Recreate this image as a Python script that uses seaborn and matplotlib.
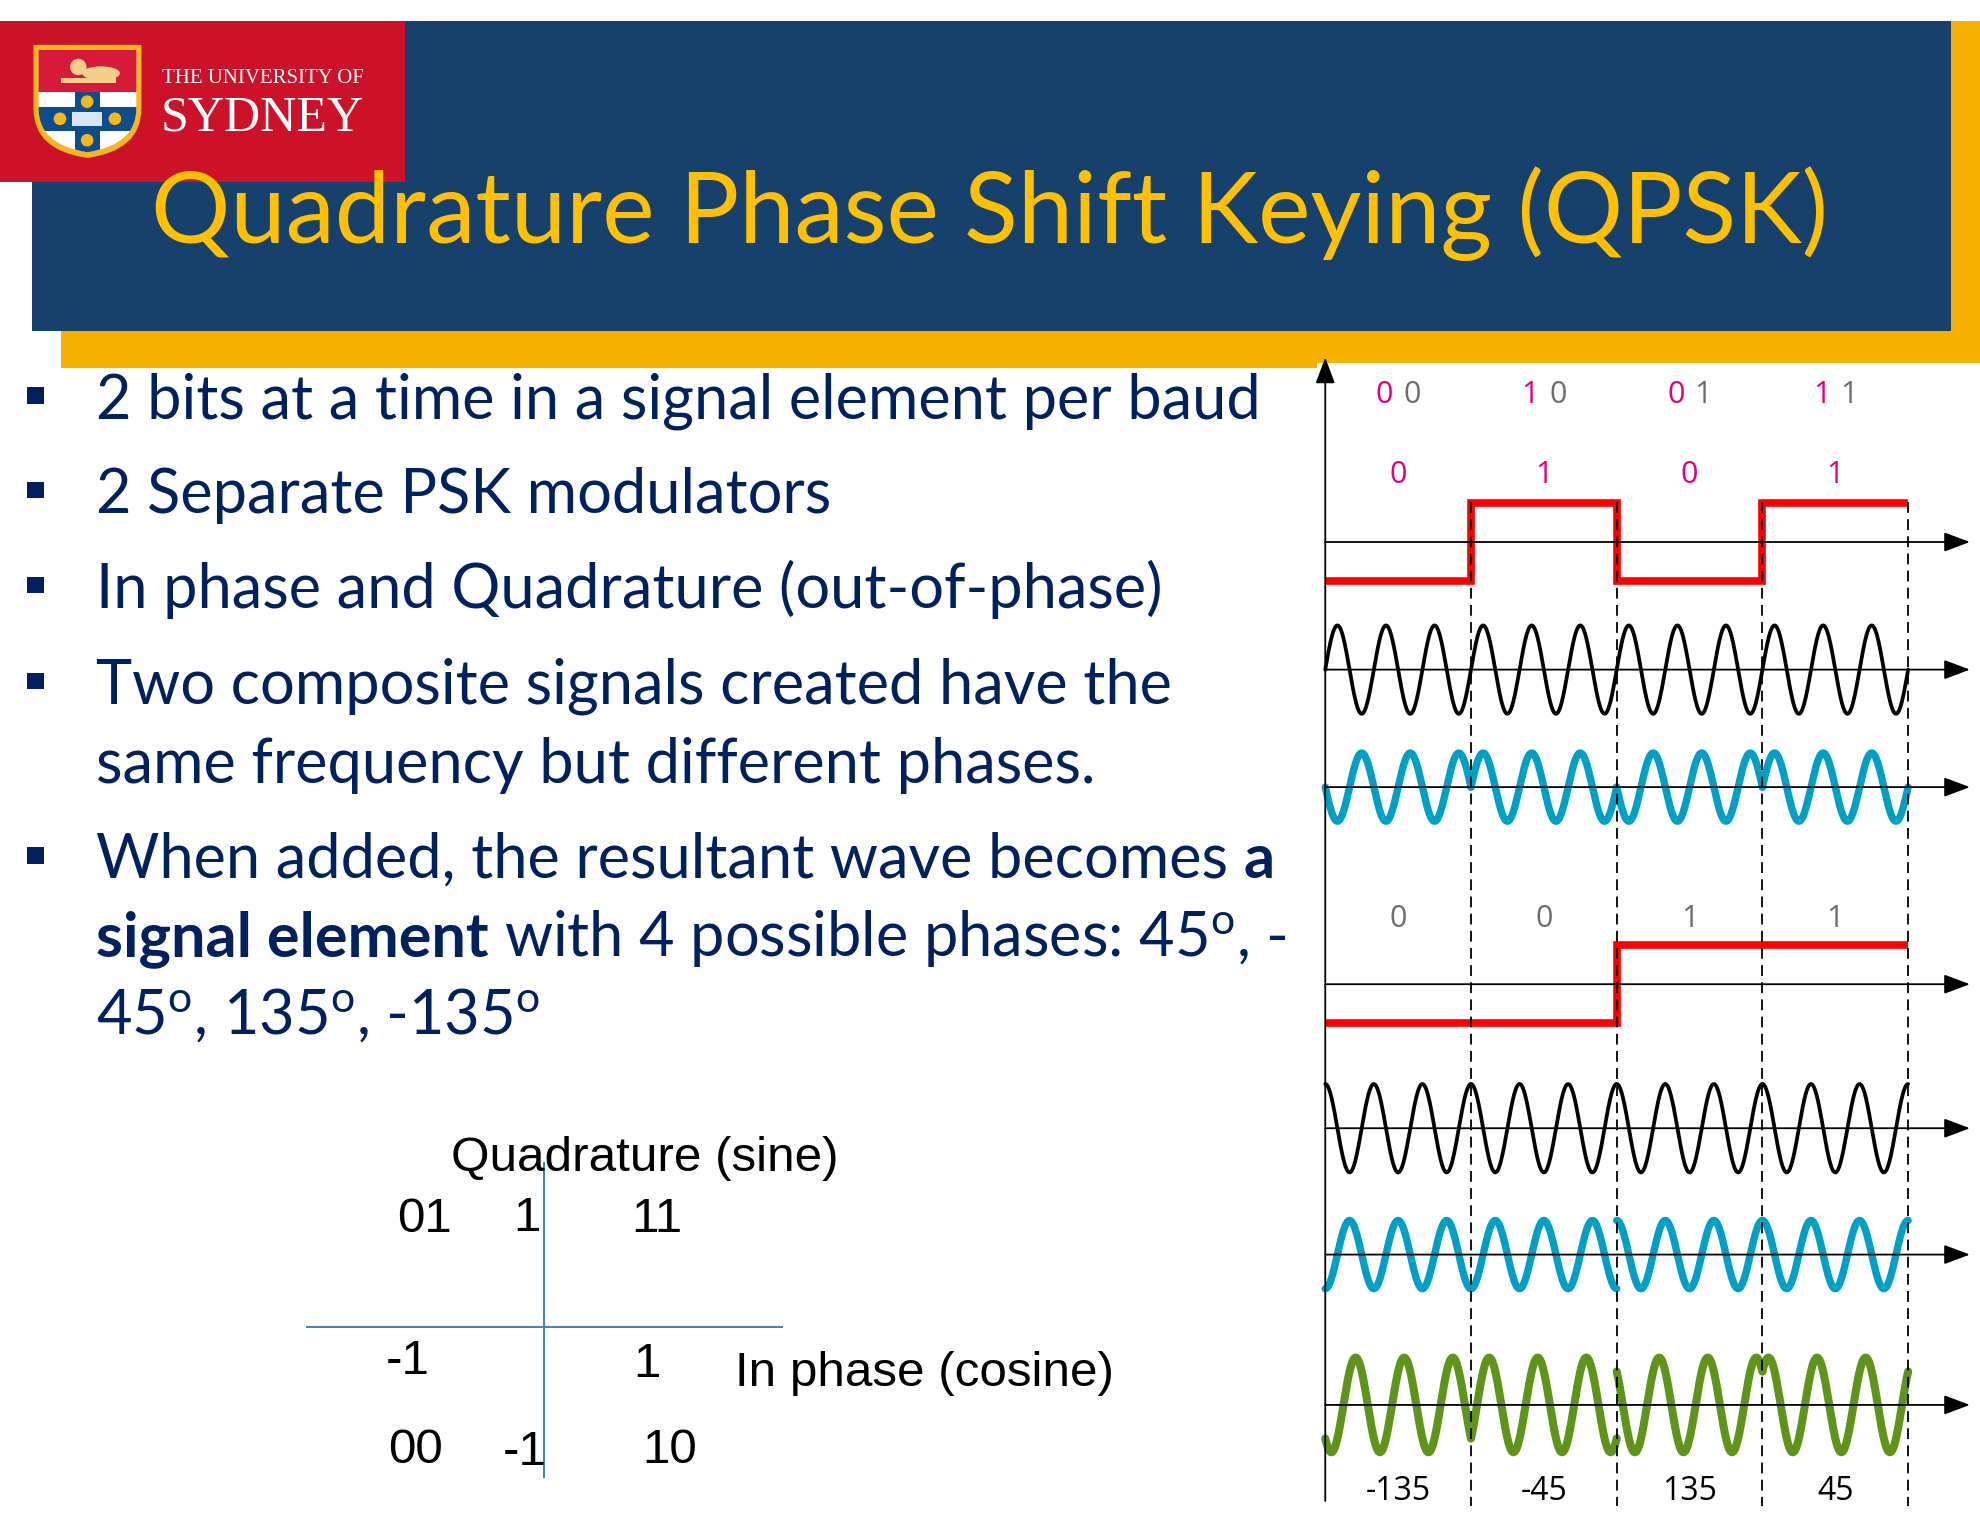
import numpy as np
import pandas as pd
import matplotlib
matplotlib.use("Agg")
import matplotlib.pyplot as plt
from matplotlib.patches import Rectangle, PathPatch, Circle, Ellipse
from matplotlib.path import Path
import seaborn as sns

# ---- slide content ----
title = "Quadrature Phase Shift Keying (QPSK)"
bullet_lines = [
    (True, [("2 bits at a time in a signal element per baud", False)]),
    (True, [("2 Separate PSK modulators", False)]),
    (True, [("In phase and Quadrature (out-of-phase)", False)]),
    (True, [("Two composite signals created have the", False)]),
    (False, [("same frequency but different phases.", False)]),
    (True, [("When added, the resultant wave becomes", False), ("a", True)]),
    (False, [("signal element", True), ("with 4 possible phases: 45$^{\\mathrm{o}}$, -", False)]),
    (False, [("45$^{\\mathrm{o}}$, 135$^{\\mathrm{o}}$, -135$^{\\mathrm{o}}$", False)]),
]

i_bits = [0, 1, 0, 1]
q_bits = [0, 0, 1, 1]
phases = [-135, -45, 135, 45]
cycles_per_symbol = 3

const_bits = ["01", "11", "00", "10"]
const_i = [-1, 1, -1, 1]
const_q = [1, 1, -1, -1]
axis_ticks = [-1, 1]

# ---- colours ----
NAVY = "#002060"
BANNER = "#16416C"
GOLD = "#F5B000"
TITLE_GOLD = "#FFC000"
LOGO_RED = "#CC1229"
PINK = "#E6007E"
GREY = "#6D6E71"
WAVE_BLUE = "#00A0C6"
WAVE_GREEN = "#5E9418"
AXIS_BLUE = "#4A7EBB"

sns.set_theme(style="white")
plt.rcParams["font.family"] = ["Lato", "DejaVu Sans"]
plt.rcParams["mathtext.fontset"] = "custom"
plt.rcParams["mathtext.rm"] = "Lato"
plt.rcParams["mathtext.bf"] = "Lato:bold"
plt.rcParams["mathtext.it"] = "Lato:italic"

# slide units (the layout grid)
W, H = 1568, 1211
fig = plt.figure(figsize=(19.8, 15.3), dpi=100)
PX = fig.get_figwidth() * fig.dpi / W
renderer = fig.canvas.get_renderer()


def frac(x0, y0, x1, y1):
    return [x0 / W, 1 - y1 / H, (x1 - x0) / W, (y1 - y0) / H]


def text_width(t):
    return t.get_window_extent(renderer=renderer).width / PX


def fit_width(t, target):
    t.set_fontsize(t.get_fontsize() * target / text_width(t))
    return t.get_fontsize()


ax_bg = fig.add_axes([0, 0, 1, 1])
ax_bg.set_xlim(0, W)
ax_bg.set_ylim(H, 0)
ax_bg.axis("off")

# ---- banner ----
ax_bg.add_patch(Rectangle((25, 17), 1520, 245, color=BANNER, lw=0))
ax_bg.add_patch(Rectangle((1545, 17), W - 1545, 270, color=GOLD, lw=0))
ax_bg.add_patch(Rectangle((48, 262), 1497, 25, color=GOLD, lw=0))
ax_bg.add_patch(Rectangle((48, 286), 995, 5, color=GOLD, lw=0))
ax_bg.add_patch(Rectangle((0, 17), 321, 127, color=LOGO_RED, lw=0))


def shield(x0, x1, y0, ymid, ytip):
    xc = (x0 + x1) / 2
    verts = [(x0, y0), (x1, y0), (x1, ymid), (x1, ytip - 6), (xc, ytip),
             (x0, ytip - 6), (x0, ymid), (x0, y0)]
    codes = [Path.MOVETO, Path.LINETO, Path.LINETO, Path.CURVE3, Path.CURVE3,
             Path.CURVE3, Path.CURVE3, Path.CLOSEPOLY]
    return Path(verts, codes)


ax_bg.add_patch(PathPatch(shield(26.5, 112, 35.5, 86, 125), color="#F7B71B", lw=0))
inner = PathPatch(shield(30.5, 108, 39.5, 86, 120.5), color="white", lw=0)
ax_bg.add_patch(inner)
crest = [
    Rectangle((26, 39), 88, 34, color="#D7193A", lw=0),
    Ellipse((62, 53), 13, 13, color="#F6D08A", lw=0),
    Ellipse((80, 58), 30, 11, color="#F6D08A", lw=0),
    Rectangle((48, 62), 44, 4, color="#F6D08A", lw=0),
    Rectangle((26, 85), 88, 19, color="#0F4C8C", lw=0),
    Rectangle((59.5, 73), 19.5, 52, color="#0F4C8C", lw=0),
    Circle((69, 80.5), 5, color="#F2B81C", lw=0),
    Circle((47.5, 94), 5, color="#F2B81C", lw=0),
    Circle((91, 94), 5, color="#F2B81C", lw=0),
    Circle((69, 111), 5, color="#F2B81C", lw=0),
    Rectangle((57, 88.5), 23.5, 11.5, color="#D9E6F2", lw=0),
]
for p in crest:
    ax_bg.add_patch(p)
    p.set_clip_path(inner)
t = ax_bg.text(128, 66, "THE UNIVERSITY OF", color="white", fontsize=15,
               family="Liberation Serif", va="baseline")
fit_width(t, 160)
t = ax_bg.text(127, 103, "SYDNEY", color="white", fontsize=36,
               family="Liberation Serif", va="baseline")
fit_width(t, 161)

t = ax_bg.text(784, 192, title, color=TITLE_GOLD, fontsize=66,
               ha="center", va="baseline")
fit_width(t, 1328)

# ---- bullet list ----
baselines = [331, 406, 481, 557, 620, 695, 757, 818]
probe = ax_bg.text(76, baselines[0], bullet_lines[0][1][0][0], fontsize=36,
                   color=NAVY, va="baseline")
body_size = fit_width(probe, 922)
probe.remove()
a1 = ax_bg.text(0, 0, "a a", fontsize=body_size)
a2 = ax_bg.text(0, 0, "aa", fontsize=body_size)
space = text_width(a1) - text_width(a2)
a1.remove()
a2.remove()

for (has_bullet, runs), y in zip(bullet_lines, baselines):
    if has_bullet:
        ax_bg.add_patch(Rectangle((21.5, y - 24.5), 13, 13, color=NAVY, lw=0))
    x = 76
    for s, bold in runs:
        t = ax_bg.text(x, y, s, fontsize=body_size, color=NAVY, va="baseline",
                       fontweight="bold" if bold else "normal")
        x += text_width(t) + space

# ---- constellation ----
CS = 90.0
ax_c = fig.add_axes(frac(242, 920, 620, 1170))
ax_c.set_xlim(-189 / CS, 189 / CS)
ax_c.set_ylim(-120 / CS, 130 / CS)
ax_c.axis("off")
ax_c.axhline(0, color=AXIS_BLUE, lw=1.4)
ax_c.axvline(0, color=AXIS_BLUE, lw=1.4)
cfont = dict(family="Liberation Sans", color="black", va="baseline", clip_on=False)
t = ax_c.text(-74 / CS, 123 / CS, "Quadrature (sine)", fontsize=36, ha="left", **cfont)
csize = fit_width(t, 307)
ax_c.text(151 / CS, -47 / CS, "In phase (cosine)", fontsize=csize, ha="left", **cfont)
for bits, ci, cq in zip(const_bits, const_i, const_q):
    if cq > 0:
        lx, ly = ci * 1.02 - 0.03, 0.83
    else:
        lx, ly = ci * 1.117 - 0.017, -1.2
    ax_c.text(lx, ly, bits, fontsize=csize, ha="center", **cfont)
for v in axis_ticks:
    lbl = "%d" % v
    ax_c.text(v * 1.05 - 0.15, -0.42 - 0.02 * (v > 0), lbl, fontsize=csize,
              ha="center", **cfont)
    ax_c.text(-0.15 - 0.02 * (v < 0), 0.84 if v > 0 else -1.22, lbl,
              fontsize=csize, ha="center", **cfont)

# ---- waveforms ----
X0, SYM = 1049.5, 115.4
ax_w = fig.add_axes(frac(1040, 0, W, H))

t_sym = np.linspace(0, 1, 400)
frames = []
for k, (a, b) in enumerate(zip(i_bits, q_bits)):
    tt = k + t_sym
    s = np.sin(2 * np.pi * cycles_per_symbol * tt)
    c = np.cos(2 * np.pi * cycles_per_symbol * tt)
    frames.append(pd.DataFrame({"sym": k, "t": tt, "sin": s, "cos": c,
                                "i": (2 * a - 1) * s, "q": (2 * b - 1) * c}))
waves = pd.concat(frames, ignore_index=True)
waves["sum"] = waves["i"] + waves["q"]

steps = pd.DataFrame({"t": np.arange(len(i_bits) + 1),
                      "i": i_bits + i_bits[-1:], "q": q_bits + q_bits[-1:]})

rows = {"i_bits": 429, "i_carrier": 530, "i_mod": 623,
        "q_bits": 779, "q_carrier": 893, "q_mod": 993, "sum": 1112}


def draw_steps(col, base):
    d = steps.assign(y=base - 31 * (2 * steps[col] - 1))
    sns.lineplot(data=d, x="t", y="y", drawstyle="steps-post", color="#FF0000",
                 lw=5.5, solid_capstyle="butt", solid_joinstyle="miter",
                 estimator=None, sort=False, legend=False, ax=ax_w)


def draw_wave(col, base, amp, color, lw):
    d = waves.assign(y=base - amp * waves[col])
    sns.lineplot(data=d, x="t", y="y", units="sym", estimator=None, sort=False,
                 color=color, lw=lw, solid_capstyle="round", legend=False, ax=ax_w)


draw_steps("i", rows["i_bits"])
draw_wave("sin", rows["i_carrier"], 35, "black", 2.7)
draw_wave("i", rows["i_mod"], 27, WAVE_BLUE, 5.3)
draw_steps("q", rows["q_bits"])
draw_wave("cos", rows["q_carrier"], 35, "black", 2.7)
draw_wave("q", rows["q_mod"], 27, WAVE_BLUE, 5.3)
draw_wave("sum", rows["sum"], 26.5, WAVE_GREEN, 5.8)

ax_w.set_ylim(H, 0)
ax_w.set_xlim((1040 - X0) / SYM, (W - X0) / SYM)
ax_w.axis("off")

x_tip = (1560 - X0) / SYM
arrow = dict(arrowstyle="-|>,head_length=0.8,head_width=0.3", color="black",
             lw=1.3, shrinkA=0, shrinkB=0, mutation_scale=20)
for base in rows.values():
    ax_w.annotate("", xy=(x_tip, base), xytext=(0, base), arrowprops=arrow)
ax_w.annotate("", xy=(0, 283), xytext=(0, 1188), arrowprops=arrow)
ax_w.vlines(np.arange(1, len(i_bits) + 1), 397, 1192, colors="black", lw=1.3,
            linestyles=(0, (6, 3.5)), zorder=5)

wfont = dict(family="Open Sans", ha="center", va="baseline")
centers = np.arange(len(i_bits)) + 0.5
for cx, a, b, ph in zip(centers, i_bits, q_bits, phases):
    ax_w.text(cx - 0.095, 319, str(a), color=PINK, fontsize=22, **wfont)
    ax_w.text(cx + 0.095, 319, str(b), color=GREY, fontsize=22, **wfont)
    ax_w.text(cx, 382, str(a), color=PINK, fontsize=22, **wfont)
    ax_w.text(cx, 734, str(b), color=GREY, fontsize=22, **wfont)
    ax_w.text(cx, 1187, str(ph), color="black", fontsize=23, **wfont)

fig.savefig("out.png", dpi=100)
